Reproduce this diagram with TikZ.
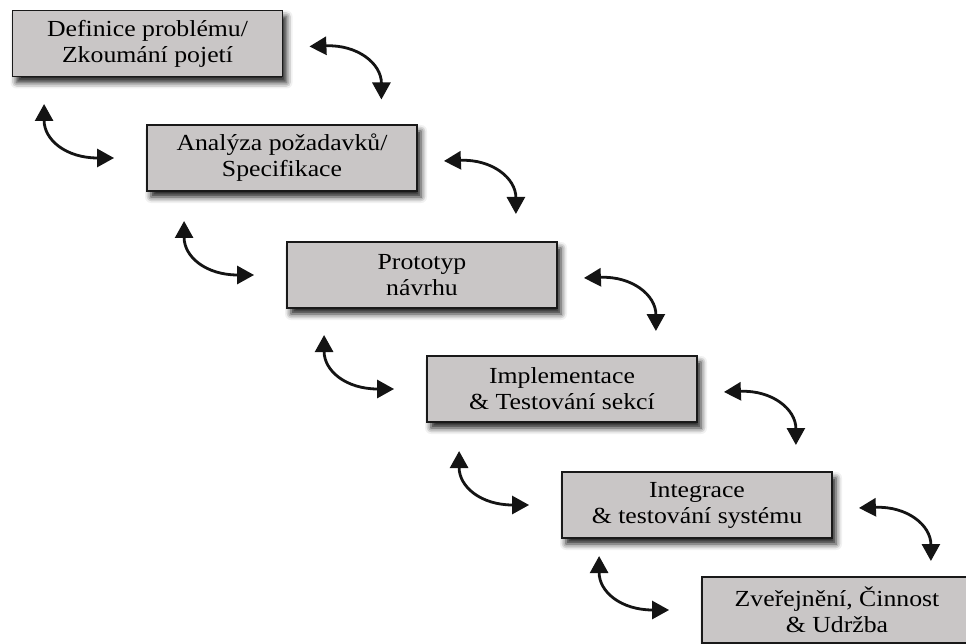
\documentclass[tikz,border=0pt]{standalone}
\usepackage{fontspec}
\setmainfont{Liberation Serif}[FakeStretch=1.12]
\usetikzlibrary{arrows.meta,shadows.blur,calc}
\definecolor{boxfill}{RGB}{201,198,198}
\definecolor{boxline}{RGB}{25,25,25}
\definecolor{arrowcol}{RGB}{20,20,20}
\begin{document}
\begin{tikzpicture}[x=1pt,y=-1pt,
  stage/.style={draw=boxline, line width=1.8pt, fill=boxfill,
    minimum width=270pt, minimum height=66pt, inner sep=0pt, align=center,
    font=\fontsize{23}{26}\selectfont,
    blur shadow={shadow xshift=4pt, shadow yshift=-6pt, shadow blur radius=6pt, shadow opacity=90}},
  link/.style={draw=arrowcol, line width=2.8pt,
    {Triangle[length=17pt,width=18pt]}-{Triangle[length=17pt,width=18pt]}}]
\useasboundingbox (0,0) rectangle (966,644);
\node[stage] (s1) at (147.5,43.5) {Definice problému/\\Zkoumání pojetí};
\node[stage] (s2) at (282,158) {Analýza požadavků/\\Specifikace};
\node[stage] (s3) at (422,275) {Prototyp\\návrhu};
\node[stage] (s4) at (562,389) {Implementace\\\& Testování sekcí};
\node[stage] (s5) at (697,505) {Integrace\\\& testování systému};
\node[stage] (s6) at (837,610) {Zveřejnění, Činnost\\\& Udržba};
\foreach \i in {1,...,5}{
  \coordinate (ra\i) at ($(s\i.east)+(26,3)$);
  \coordinate (rb\i) at ($(s\i.east)+(98,56)$);
  \draw[link] (ra\i) .. controls +(48,-2) and +(0,-36) .. (rb\i);
}
\foreach \i in {2,...,6}{
  \coordinate (lt\i) at ($(s\i.west)+(-102,-54)$);
  \coordinate (lr\i) at ($(s\i.west)+(-32,0)$);
  \draw[link] (lt\i) .. controls +(0,36) and +(-48,0) .. (lr\i);
}
\end{tikzpicture}
\end{document}
